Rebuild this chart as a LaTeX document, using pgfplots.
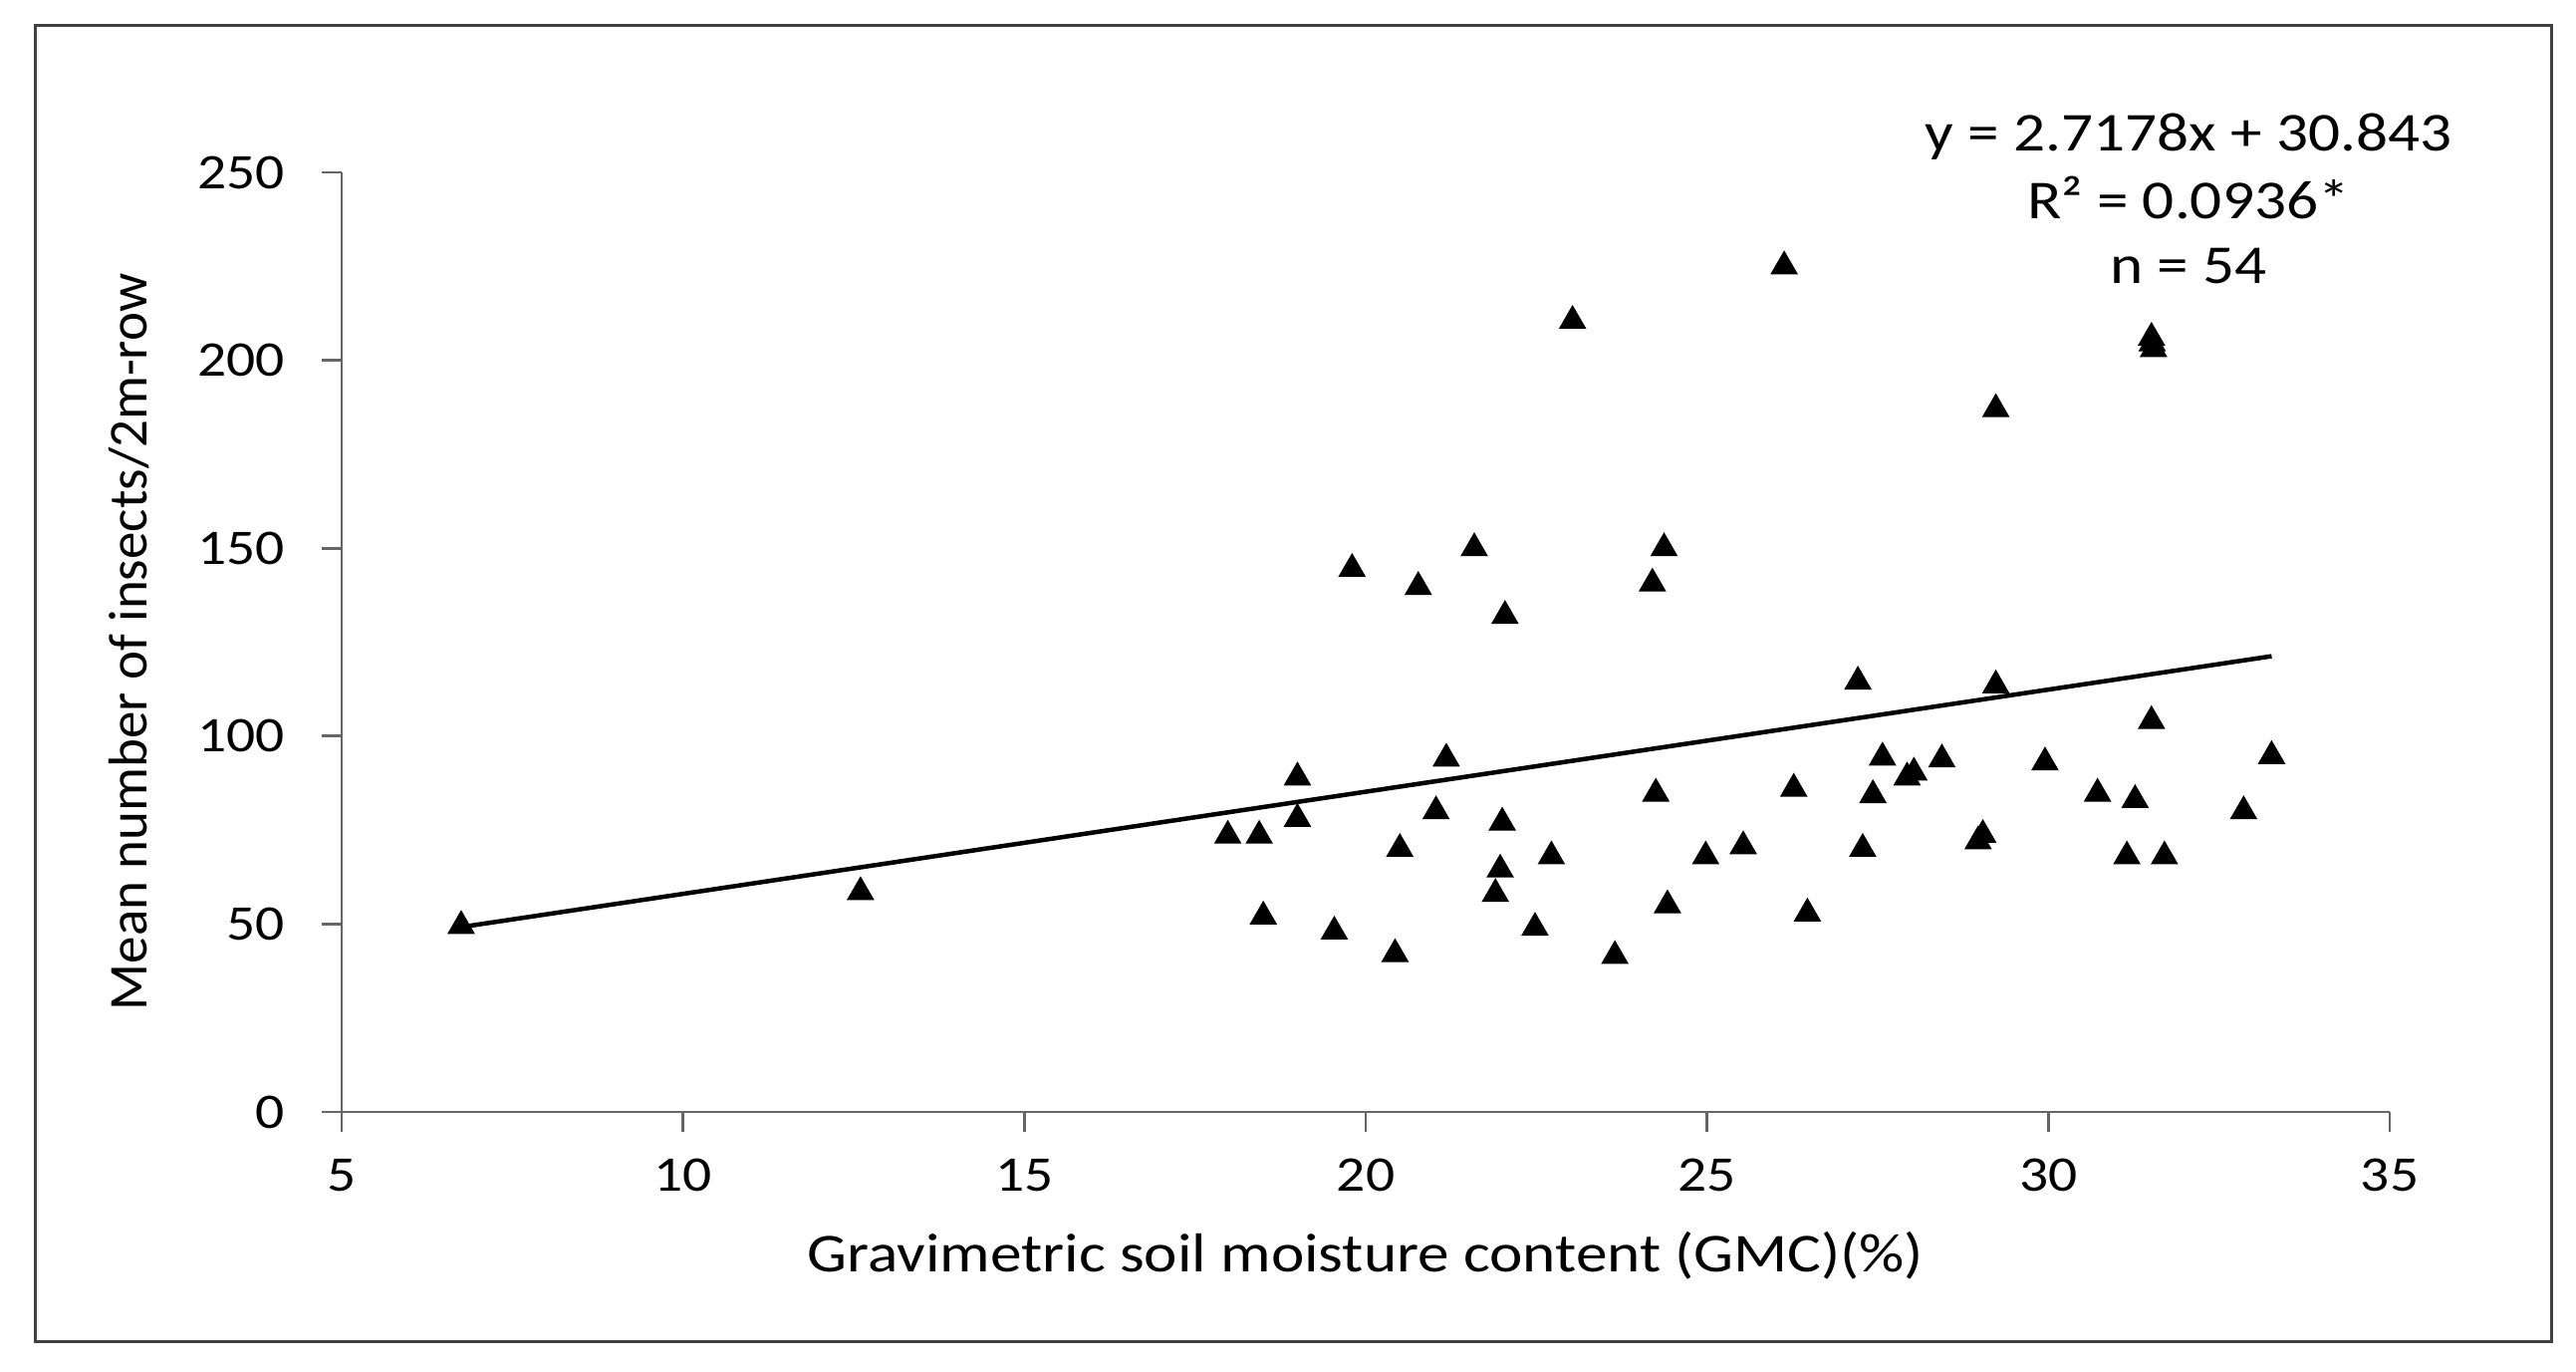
\documentclass[border=0pt]{standalone}
\usepackage{pgfplots}
\pgfplotsset{compat=1.18}
\usepackage{fontspec}
\setmainfont{Carlito}[FakeStretch=1.15]
\newfontfamily\plainfont{Carlito}
\begin{document}
\begin{tikzpicture}
\path (0,0) rectangle (517.2pt,275.4pt);
\draw[line width=0.6pt, black!75] (7pt,6pt) rectangle (512.2pt,270.2pt);
\begin{axis}[
  at={(68.6pt,52.2pt)}, anchor=south west,
  scale only axis, width=411.2pt, height=188.6pt,
  xmin=5, xmax=35, ymin=0, ymax=250,
  xtick={5,10,...,35}, ytick={0,50,...,250},
  axis lines*=left,
  axis line style={-, draw=black!60, line width=0.55pt},
  tick align=outside, major tick length=4pt,
  tick style={black!60, line width=0.55pt},
  /pgf/number format/assume math mode=true,
  ticklabel style={font=\fontsize{10}{12}\selectfont, text=black},
  yticklabel style={anchor=east, inner sep=0pt, xshift=-7.2pt},
  xticklabel style={anchor=north, inner sep=0pt, yshift=-5.2pt},
  xlabel={Gravimetric soil moisture content (GMC)(\%)},
  ylabel={Mean number of insects/2m-row},
  xlabel style={at={(axis description cs:0.5,-0.1707)}, anchor=base, font=\fontsize{11}{13}\selectfont, text=black, inner sep=0pt},
  ylabel style={at={(axis description cs:-0.0953,0.5)}, anchor=base, font=\plainfont\fontsize{11}{13}\selectfont, text=black, inner sep=0pt},
  clip=false,
]
\addplot[only marks, mark=triangle*, mark size=2.9pt, mark options={fill=black, draw=black, line width=0.3pt}] coordinates {
(6.75,49.5) (12.6,58.5) (17.98,73.5) (18.44,73.5) (18.5,52) (19.0,89) (19.0,78)
(19.54,48) (19.8,144.5) (20.43,42) (20.5,70) (20.77,139.7) (21.03,80) (21.18,94)
(21.59,150) (21.9,58) (21.97,64.5) (22.0,77) (22.04,132) (22.48,49) (22.72,68)
(23.03,210.5) (23.65,41.5) (24.2,140.6) (24.25,84.7) (24.37,150) (24.42,55)
(24.98,68) (25.53,70.7) (26.13,225) (26.27,86) (26.47,52.8) (27.21,114.5)
(27.28,70) (27.43,84.3) (27.57,94.3) (27.93,89) (28.03,90.3) (28.44,93.8)
(28.97,72) (29.04,73.7) (29.23,187) (29.23,113.5) (29.95,93) (30.72,84.7)
(31.27,83) (31.15,68) (31.51,206) (31.54,203) (31.52,204.5) (31.51,104) (31.7,68)
(32.86,80) (33.27,94.7)
};
\addplot[black, line width=0.9pt, no marks] coordinates {(6.75,49.19) (33.27,121.26)};
\end{axis}
\node[anchor=base, font=\fontsize{11}{13}\selectfont, text=black, inner sep=0pt] at (439.4pt,245pt) {y = 2.7178x + 30.843};
\node[anchor=base, font=\fontsize{11}{13}\selectfont, text=black, inner sep=0pt] at (439.4pt,231.4pt) {R² = 0.0936*};
\node[anchor=base, font=\fontsize{11}{13}\selectfont, text=black, inner sep=0pt] at (439.4pt,218.4pt) {n = 54};
\end{tikzpicture}
\end{document}
